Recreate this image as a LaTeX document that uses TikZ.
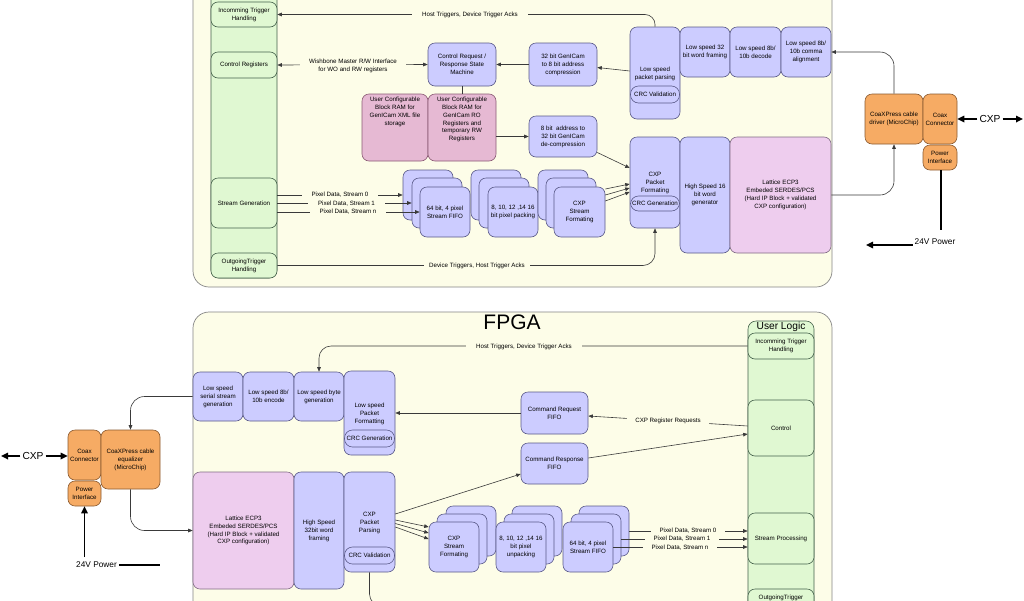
\documentclass[tikz,border=0pt]{standalone}
\usepackage{fontspec}
\setmainfont{Liberation Sans}
\usetikzlibrary{arrows.meta}
\definecolor{panelbg}{HTML}{FDFDE8}
\definecolor{paneldraw}{HTML}{858585}
\definecolor{greenfill}{HTML}{E0F8D2}
\definecolor{greendraw}{HTML}{44604A}
\definecolor{bluefill}{HTML}{CCCCFF}
\definecolor{bluedraw}{HTML}{5A5A88}
\definecolor{pinkfill}{HTML}{E6B9D3}
\definecolor{pinkdraw}{HTML}{8A5A74}
\definecolor{ecpfill}{HTML}{EECDEE}
\definecolor{ecpdraw}{HTML}{806A84}
\definecolor{orangefill}{HTML}{F6AB64}
\definecolor{orangedraw}{HTML}{8A5A30}
\definecolor{linecol}{HTML}{3A3A3A}
\newcommand\smallfs{\fontsize{6.2}{7.9}\selectfont}
\newcommand\bx[7]{\node[#2, minimum width={#5-#3}, minimum height={#6-#4}] (#1) at ({(#3+#5)/2},{(#4+#6)/2}) {#7};}
\tikzset{
  basebox/.style={rounded corners=7pt, line width=0.6pt, align=center, inner sep=1pt, font=\smallfs},
  gbox/.style={basebox, fill=greenfill, draw=greendraw},
  bbox/.style={basebox, fill=bluefill, draw=bluedraw},
  pbox/.style={basebox, fill=pinkfill, draw=pinkdraw},
  ebox/.style={basebox, fill=ecpfill, draw=ecpdraw},
  obox/.style={basebox, fill=orangefill, draw=orangedraw},
  crcbox/.style={basebox, rounded corners=8pt, inner sep=0.3pt, fill=bluefill, draw=bluedraw},
  txt/.style={font=\smallfs, align=center, inner sep=0pt},
  lbl/.style={font=\smallfs, align=center, fill=panelbg, inner ysep=1pt, inner xsep=#1},
  lbl/.default=10pt,
  conn/.style={draw=linecol, line width=0.6pt},
  arr/.style={conn, -{Triangle[length=4.5pt,width=3.6pt]}},
  dblarr/.style={conn, {Triangle[length=4.5pt,width=3.6pt]}-{Triangle[length=4.5pt,width=3.6pt]}},
  tarr/.style={draw=black, line width=1.6pt, -{Triangle[length=7pt,width=6.5pt]}},
  tline/.style={draw=black, line width=1.6pt},
  bigl/.style={font=\fontsize{10.2}{12}\selectfont, inner sep=2pt},
  pwrl/.style={font=\fontsize{8.3}{10}\selectfont, inner sep=2pt},
  panel/.style={fill=panelbg, draw=paneldraw, line width=0.7pt, rounded corners=16pt},
  gcol/.style={fill=greenfill, draw=greendraw, line width=0.6pt, rounded corners=8pt}
}
\begin{document}
\begin{tikzpicture}[x=1pt,y=-1pt]
\useasboundingbox (0,0) rectangle (1024,600);
\clip (0,0) rectangle (1024,600);
\fill[white] (0,0) rectangle (1024,600);
% ---------------- panels
\draw[panel] (193,-30) rectangle (832,287);
\draw[panel] (193,312) rectangle (832,640);
\draw[gcol] (211,-30) rectangle (277,278);
\draw[gcol] (748,321) rectangle (814,640);
\node[font=\fontsize{21}{24}\selectfont, inner sep=0pt] (fpga) at (512,322) {FPGA};
\node[font=\fontsize{10.2}{12}\selectfont, inner sep=0pt] (ulogic) at (781,327) {User Logic};
% ---------------- top panel nodes
\bx{itrig}{gbox}{211}{2}{277}{27}{Incomming Trigger\\Handling}
\bx{creg}{gbox}{211}{52}{277}{78}{Control Registers}
\bx{sgen}{gbox}{211}{178}{277}{228}{Stream Generation}
\bx{otrig}{gbox}{211}{253}{277}{278}{OutgoingTrigger\\Handling}
\bx{crsm}{bbox}{428}{43}{496}{86}{Control Request /\\Response State\\Machine}
\bx{gc32}{bbox}{529}{43}{597}{86}{32 bit GenICam\\to 8 bit address\\compression}
\bx{ram1}{pbox}{362}{94}{428}{161}{}
\node[txt, anchor=north] (ram1t) at ([yshift=-3pt]ram1.north) {User Configurable\\Block RAM for\\GenICam XML file\\storage};
\bx{ram2}{pbox}{428}{94}{496}{161}{}
\node[txt, anchor=north] (ram2t) at ([yshift=-3pt]ram2.north) {User Configurable\\Block RAM for\\GenICam RO\\Registers and\\temporary RW\\Registers};
\bx{dec8}{bbox}{529}{116}{597}{157}{8 bit\ \ address to\\32 bit GenICam\\de-compression}
\bx{lspp}{bbox}{630}{27}{680}{119}{}
\node[txt] (lsppt) at (655,74) {Low speed\\packet parsing};
\bx{lsppcrc}{crcbox}{630.5}{86}{679.5}{103}{CRC Validation}
\bx{wf32}{bbox}{680}{27}{730}{77}{Low speed 32\\bit word framing}
\bx{dec10}{bbox}{730}{27}{781}{77}{Low speed 8b/\\10b decode}
\bx{comma}{bbox}{781}{27}{831}{77}{Low speed 8b/\\10b comma\\alignment}
\bx{cpf}{bbox}{630}{137}{680}{228}{}
\node[txt] (cpft) at (655,183) {CXP\\Packet\\Formating};
\bx{cpfcrc}{crcbox}{630.5}{196}{679.5}{211}{CRC Generation}
\bx{hs16}{bbox}{680}{137}{730}{253}{High Speed 16\\bit word\\generator}
\bx{ecp1}{ebox}{730}{137}{831}{253}{Lattice ECP3\\Embeded SERDES/PCS\\(Hard IP Block + validated\\CXP configuration)}
% stacks (top)
\bx{fifo3}{bbox}{403}{170}{453}{220}{}
\bx{fifo2}{bbox}{412}{178}{462}{228}{}
\bx{fifo1}{bbox}{420}{187}{470}{237}{64 bit, 4 pixel\\Stream FIFO}
\bx{pack3}{bbox}{471}{170}{521}{220}{}
\bx{pack2}{bbox}{479}{178}{529}{228}{}
\bx{pack1}{bbox}{488}{187}{538}{237}{8, 10, 12 ,14 16\\bit pixel packing}
\bx{sf3}{bbox}{538}{170}{588}{220}{}
\bx{sf2}{bbox}{546}{178}{596}{228}{}
\bx{sf1}{bbox}{554}{187}{605}{237}{CXP\\Stream\\Formating}
% outside right
\bx{drv}{obox}{865}{94}{923}{144}{CoaXPress cable\\driver (MicroChip)}
\bx{coax1}{obox}{923}{94}{957}{144}{Coax\\Connector}
\bx{pwr1}{obox}{923}{145}{957}{170}{Power\\Interface}
% ---------------- bottom panel nodes
\bx{uitrig}{gbox}{748}{333}{814}{359}{Incomming Trigger\\Handling}
\bx{ctrl}{gbox}{748}{400}{814}{456}{Control}
\bx{sproc}{gbox}{748}{513}{814}{564}{Stream Processing}
\bx{uotrig}{gbox}{748}{589}{814}{614}{OutgoingTrigger\\Handling}
\bx{lssg}{bbox}{193}{372}{243}{421}{Low speed\\serial stream\\generation}
\bx{enc10}{bbox}{243}{372}{294}{421}{Low speed 8b/\\10b encode}
\bx{lsbg}{bbox}{294}{372}{344}{421}{Low speed byte\\generation}
\bx{lspf}{bbox}{344}{371}{395}{455}{}
\node[txt] (lspft) at (369.5,414) {Low speed\\Packet\\Formatting};
\bx{lspfcrc}{crcbox}{344.5}{430}{394.5}{447}{CRC Generation}
\bx{cmdreq}{bbox}{521}{392}{588}{434}{Command Request\\FIFO}
\bx{cmdresp}{bbox}{521}{443}{588}{484}{Command Response\\FIFO}
\bx{coax2}{obox}{68}{430}{101}{480}{Coax\\Connector}
\bx{pwr2}{obox}{68}{481}{101}{506}{Power\\Interface}
\bx{eq}{obox}{101}{430}{160}{489}{CoaXPress cable\\equalizer\\(MicroChip)}
\bx{ecp2}{ebox}{193}{472}{294}{589}{Lattice ECP3\\Embeded SERDES/PCS\\(Hard IP Block + validated\\CXP configuration)}
\bx{hs32}{bbox}{294}{472}{344}{589}{High Speed\\32bit word\\framing}
\bx{cpp}{bbox}{344}{472}{395}{572}{}
\node[txt] (cppt) at (369.5,523) {CXP\\Packet\\Parsing};
\bx{cppcrc}{crcbox}{344.5}{547}{394.5}{564}{CRC Validation}
% stacks (bottom)
\bx{bsf3}{bbox}{446}{506}{496}{556}{}
\bx{bsf2}{bbox}{437}{514}{487}{564}{}
\bx{bsf1}{bbox}{429}{522}{479}{572}{CXP\\Stream\\Formating}
\bx{unp3}{bbox}{512}{506}{562}{556}{}
\bx{unp2}{bbox}{504}{514}{554}{564}{}
\bx{unp1}{bbox}{496}{522}{546}{572}{8, 10, 12 ,14 16\\bit pixel\\unpacking}
\bx{bff3}{bbox}{579}{506}{629}{556}{}
\bx{bff2}{bbox}{571}{514}{621}{564}{}
\bx{bff1}{bbox}{563}{522}{613}{572}{64 bit, 4 pixel\\Stream FIFO}
% ---------------- top connectors
\draw[arr, rounded corners=10pt] (lspp.north) |- (itrig.east);
\draw[dblarr] (creg.east) -- (crsm.west);
\draw[arr] (gc32.west) -- (crsm.east);
\draw[arr] ([yshift=2pt]lspp.west) -- ([yshift=-3pt]gc32.east);
\draw[conn] (crsm.south) -- (ram2.north);
\draw[arr] (ram2.east |- dec8.west) -- (dec8.west);
\draw[arr] ([yshift=-16pt]dec8.east) -- ([yshift=14.5pt]cpf.west);
\draw[arr] (sgen.east |- fifo3.west) -- (fifo3.west);
\draw[arr] (sgen.east |- fifo2.west) -- (fifo2.west);
\draw[arr] (sgen.east |- fifo1.west) -- (fifo1.west);
\draw[arr] ([yshift=23pt]sf1.east) -- ([yshift=-1.5pt]cpf.west);
\draw[arr] ([yshift=17pt]sf1.east) -- ([yshift=-5.5pt]cpf.west);
\draw[arr] ([yshift=11pt]sf1.east) -- ([yshift=-9.5pt]cpf.west);
\draw[arr, rounded corners=12pt] (otrig.east) -| (cpf.south);
\draw[arr, rounded corners=14pt] (drv.north) |- (comma.east);
\draw[arr, rounded corners=14pt] (ecp1.east) -| (drv.south);
% labels top
\node[lbl] (l1) at (470,15) {Host Triggers, Device Trigger Acks};
\node[lbl=9pt] (l2) at (353,66) {Wishbone Master R/W Interface\\for WO and RW registers};
\node[lbl] (l3) at (340,195) {Pixel Data, Stream 0};
\node[lbl] (l4) at (346.5,203.5) {Pixel Data, Stream 1};
\node[lbl] (l5) at (348,212) {Pixel Data, Stream n};
\node[lbl=5.5pt] (l6) at (477,266) {Device Triggers, Host Trigger Acks};
% outside right
\node[bigl] (cxp1) at (990,119) {CXP};
\coordinate (cxp1end) at (1023,119);
\draw[tarr] (cxp1.west) -- (coax1.east);
\draw[tarr] (cxp1.east) -- (cxp1end);
\coordinate (p1end) at (941,230);
\draw[tline] (pwr1.south -| p1end) -- (p1end);
\node[pwrl] (p24a) at (935,242) {24V Power};
\coordinate (p24aend) at (866,245);
\draw[tarr] (p24a.west |- p24aend) -- (p24aend);
% ---------------- bottom connectors
\draw[arr, rounded corners=12pt] (uitrig.west) -| (lsbg.north);
\draw[arr] (cmdreq.west) -- (cmdreq.west -| lspf.east);
\draw[arr] ([yshift=2pt]ctrl.west) -- ([yshift=-3pt]cmdreq.east);
\draw[arr] ([yshift=5.5pt]cmdresp.east) -- ([yshift=-6pt]ctrl.west);
\draw[arr] ([yshift=8pt]cpp.east) -- ([yshift=-10.5pt]cmdresp.west);
\draw[arr, rounded corners=14pt] (lssg.west) -| (eq.north);
\draw[arr, rounded corners=14pt] (eq.south) |- (ecp2.west);
\coordinate (cppout) at (430,606);
\draw[conn, rounded corners=12pt] (cpp.south) |- (cppout);
\draw[arr] ([yshift=2pt]cpp.east) -- ([yshift=20pt]bsf1.west);
\draw[arr] ([yshift=-1.5pt]cpp.east) -- ([yshift=14pt]bsf1.west);
\draw[arr] ([yshift=-5pt]cpp.east) -- ([yshift=8pt]bsf1.west);
\draw[arr] (bff3.east) -- (bff3.east -| sproc.west);
\draw[arr] (bff2.east) -- (bff2.east -| sproc.west);
\draw[arr] (bff1.east) -- (bff1.east -| sproc.west);
% labels bottom
\node[lbl] (l7) at (524,347) {Host Triggers, Device Trigger Acks};
\node[lbl=8pt] (l8) at (668,421) {CXP Register Requests};
\node[lbl=9pt] (l9) at (688,531) {Pixel Data, Stream 0};
\node[lbl=9pt] (l10) at (682,539) {Pixel Data, Stream 1};
\node[lbl=9pt] (l11) at (680,547.5) {Pixel Data, Stream n};
% outside left
\node[bigl] (cxp2) at (33,456) {CXP};
\coordinate (cxp2end) at (1,456);
\draw[tarr] (cxp2.west) -- (cxp2end);
\draw[tarr] (cxp2.east) -- (cxp2.east -| coax2.west);
\node[pwrl] (p24b) at (96.5,565) {24V Power};
\coordinate (p2start) at (84.5,557);
\draw[tarr] (p2start) -- (pwr2.south);
\coordinate (p2end) at (160,565);
\draw[tline] (p24b.east) -- (p2end);
\end{tikzpicture}
\end{document}
